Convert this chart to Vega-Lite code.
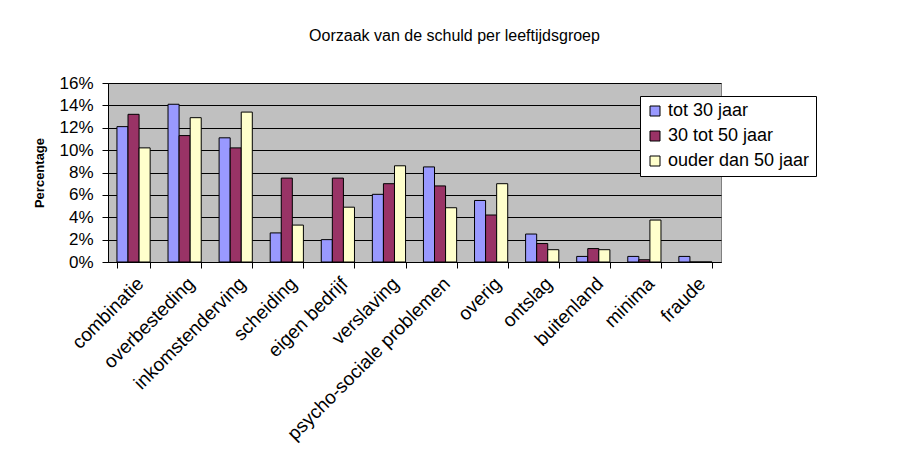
{
  "$schema": "https://vega.github.io/schema/vega-lite/v6.json",
  "autosize": {"type": "none"},
  "width": 613,
  "height": 179,
  "padding": {"left": 108, "top": 83, "right": 187, "bottom": 193},
  "background": "white",
  "title": {"text": "Oorzaak van de schuld per leeftijdsgroep", "font": "Liberation Sans", "fontSize": 16, "fontWeight": "normal", "color": "black", "anchor": "middle", "dx": 40, "offset": 30},
  "config": {
    "font": "Liberation Sans",
    "view": {"fill": "#C0C0C0", "stroke": "#808080", "strokeWidth": 1}
  },
  "data": {"values": [
    {"oorzaak": "combinatie", "groep": "tot 30 jaar", "pct": 0.121},
    {"oorzaak": "combinatie", "groep": "30 tot 50 jaar", "pct": 0.132},
    {"oorzaak": "combinatie", "groep": "ouder dan 50 jaar", "pct": 0.102},
    {"oorzaak": "overbesteding", "groep": "tot 30 jaar", "pct": 0.141},
    {"oorzaak": "overbesteding", "groep": "30 tot 50 jaar", "pct": 0.113},
    {"oorzaak": "overbesteding", "groep": "ouder dan 50 jaar", "pct": 0.129},
    {"oorzaak": "inkomstenderving", "groep": "tot 30 jaar", "pct": 0.111},
    {"oorzaak": "inkomstenderving", "groep": "30 tot 50 jaar", "pct": 0.102},
    {"oorzaak": "inkomstenderving", "groep": "ouder dan 50 jaar", "pct": 0.134},
    {"oorzaak": "scheiding", "groep": "tot 30 jaar", "pct": 0.026},
    {"oorzaak": "scheiding", "groep": "30 tot 50 jaar", "pct": 0.075},
    {"oorzaak": "scheiding", "groep": "ouder dan 50 jaar", "pct": 0.033},
    {"oorzaak": "eigen bedrijf", "groep": "tot 30 jaar", "pct": 0.020},
    {"oorzaak": "eigen bedrijf", "groep": "30 tot 50 jaar", "pct": 0.075},
    {"oorzaak": "eigen bedrijf", "groep": "ouder dan 50 jaar", "pct": 0.049},
    {"oorzaak": "verslaving", "groep": "tot 30 jaar", "pct": 0.0605},
    {"oorzaak": "verslaving", "groep": "30 tot 50 jaar", "pct": 0.070},
    {"oorzaak": "verslaving", "groep": "ouder dan 50 jaar", "pct": 0.086},
    {"oorzaak": "psycho-sociale problemen", "groep": "tot 30 jaar", "pct": 0.085},
    {"oorzaak": "psycho-sociale problemen", "groep": "30 tot 50 jaar", "pct": 0.068},
    {"oorzaak": "psycho-sociale problemen", "groep": "ouder dan 50 jaar", "pct": 0.0485},
    {"oorzaak": "overig", "groep": "tot 30 jaar", "pct": 0.055},
    {"oorzaak": "overig", "groep": "30 tot 50 jaar", "pct": 0.042},
    {"oorzaak": "overig", "groep": "ouder dan 50 jaar", "pct": 0.070},
    {"oorzaak": "ontslag", "groep": "tot 30 jaar", "pct": 0.025},
    {"oorzaak": "ontslag", "groep": "30 tot 50 jaar", "pct": 0.0165},
    {"oorzaak": "ontslag", "groep": "ouder dan 50 jaar", "pct": 0.011},
    {"oorzaak": "buitenland", "groep": "tot 30 jaar", "pct": 0.005},
    {"oorzaak": "buitenland", "groep": "30 tot 50 jaar", "pct": 0.012},
    {"oorzaak": "buitenland", "groep": "ouder dan 50 jaar", "pct": 0.011},
    {"oorzaak": "minima", "groep": "tot 30 jaar", "pct": 0.005},
    {"oorzaak": "minima", "groep": "30 tot 50 jaar", "pct": 0.002},
    {"oorzaak": "minima", "groep": "ouder dan 50 jaar", "pct": 0.0375},
    {"oorzaak": "fraude", "groep": "tot 30 jaar", "pct": 0.005},
    {"oorzaak": "fraude", "groep": "30 tot 50 jaar", "pct": 0.0},
    {"oorzaak": "fraude", "groep": "ouder dan 50 jaar", "pct": 0.0}
  ]},
  "mark": {"type": "bar", "stroke": "black", "strokeWidth": 1},
  "encoding": {
    "x": {
      "field": "oorzaak", "type": "nominal", "sort": null,
      "scale": {"paddingInner": 0.35, "paddingOuter": 0.175},
      "axis": {"title": null, "labelAngle": -45, "labelFontSize": 19, "labelColor": "black", "domainColor": "black", "tickColor": "black", "tickSize": 6, "tickBand": "extent", "labelPadding": 6, "labelLimit": 300}
    },
    "xOffset": {"field": "groep", "type": "nominal", "sort": ["tot 30 jaar", "30 tot 50 jaar", "ouder dan 50 jaar"]},
    "y": {
      "field": "pct", "type": "quantitative",
      "scale": {"domain": [0, 0.16], "nice": false},
      "axis": {"title": "Percentage", "titleFontSize": 13, "titleFontWeight": "bold", "titleColor": "black", "titlePadding": 12, "format": ".0%", "values": [0, 0.02, 0.04, 0.06, 0.08, 0.1, 0.12, 0.14, 0.16], "labelFontSize": 17, "labelColor": "black", "domainColor": "black", "tickColor": "black", "tickSize": 6, "gridColor": "black", "gridOpacity": 1, "labelPadding": 9}
    },
    "color": {
      "field": "groep", "type": "nominal",
      "scale": {"domain": ["tot 30 jaar", "30 tot 50 jaar", "ouder dan 50 jaar"], "range": ["#9999FF", "#993366", "#FFFFCC"]},
      "legend": {"title": null, "orient": "none", "legendX": 532, "legendY": 13, "fillColor": "white", "strokeColor": "black", "padding": 6, "symbolType": "square", "symbolSize": 100, "symbolStrokeColor": "black", "symbolStrokeWidth": 1, "symbolOpacity": 1, "labelFontSize": 18, "labelColor": "black", "rowPadding": 7, "labelOffset": 4, "labelLimit": 300}
    }
  }
}
